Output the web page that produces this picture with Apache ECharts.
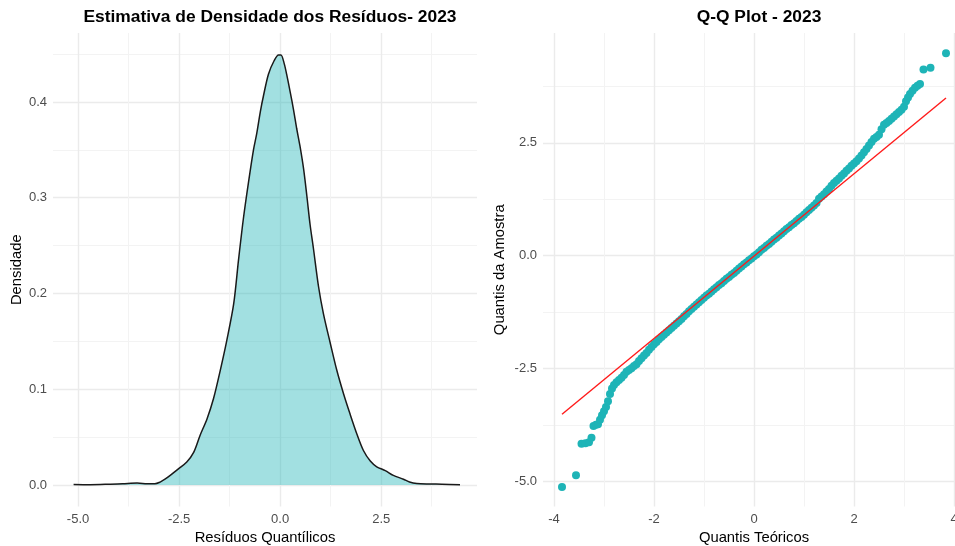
<!DOCTYPE html>
<html>
<head>
<meta charset="utf-8">
<script src="https://cdn.jsdelivr.net/npm/echarts@6/dist/echarts.min.js"></script>
<style>
html,body{margin:0;padding:0;background:#fff;}
#chart{width:955px;height:546px;}
</style>
</head>
<body>
<div id="chart"></div>
<script>
// ---- Density panel data ----
const densX = [-5.11,-4.7,-4.2,-3.9,-3.54,-3.3,-3.1,-2.97,-2.85,-2.72,-2.51,-2.31,-2.14,-1.98,-1.81,-1.65,-1.48,-1.32,-1.15,-1.03,-0.91,-0.78,-0.66,-0.58,-0.49,-0.41,-0.29,-0.15,-0.04,0.02,0.10,0.16,0.25,0.33,0.41,0.49,0.58,0.66,0.74,0.82,0.95,1.07,1.24,1.40,1.57,1.73,1.90,2.06,2.23,2.39,2.60,2.80,3.05,3.20,3.38,3.71,4.0,4.45];
const densY = [0.0005,0.0003,0.0008,0.0012,0.002,0.0013,0.0012,0.003,0.006,0.010,0.017,0.024,0.034,0.052,0.069,0.090,0.120,0.151,0.189,0.235,0.278,0.317,0.350,0.367,0.390,0.407,0.429,0.443,0.449,0.449,0.440,0.429,0.410,0.392,0.372,0.354,0.330,0.302,0.272,0.248,0.207,0.179,0.148,0.120,0.095,0.074,0.053,0.036,0.025,0.019,0.015,0.010,0.006,0.003,0.0014,0.001,0.0008,0.0003];

// ---- Q-Q panel data ----
const qqX = [-3.84,-3.56,-3.45,-3.37,-3.30,-3.25,-3.21,-3.16,-3.12,-3.08,-3.04,-3.00,-2.96,-2.92,-2.88,-2.84,
 -2.80,-2.75,-2.70,-2.65,-2.60,-2.55,-2.50,-2.45,-2.40,-2.35,-2.30,-2.25,-2.20,-2.15,-2.10,-2.05,-2.00,-1.95,-1.90,-1.85,-1.80,-1.75,-1.70,-1.65,-1.60,-1.55,-1.50,-1.45,-1.40,-1.35,-1.30,-1.25,
 -1.20,-1.15,-1.10,-1.05,-1.00,-0.95,-0.90,-0.85,-0.80,-0.75,-0.70,-0.65,-0.60,-0.55,-0.50,-0.45,-0.40,-0.35,-0.30,-0.25,-0.20,-0.15,-0.10,-0.05,
 0.00,0.05,0.10,0.15,0.20,0.25,0.30,0.35,0.40,0.45,0.50,0.55,0.60,0.65,0.70,0.75,0.80,0.85,0.90,0.95,1.00,1.05,1.10,1.15,1.20,1.25,
 1.30,1.35,1.40,1.45,1.50,1.55,1.60,1.65,1.70,1.75,1.80,1.85,1.90,1.95,2.00,2.05,2.10,2.15,2.20,2.25,2.30,2.35,2.40,2.45,2.50,2.55,2.60,2.65,2.70,2.75,2.80,2.85,2.90,2.95,3.00,3.04,3.08,3.12,3.17,3.22,3.27,3.32,3.39,3.53,3.84];
const qqY = [-5.12,-4.86,-4.16,-4.15,-4.13,-4.03,-3.77,-3.74,-3.73,-3.63,-3.53,-3.44,-3.35,-3.22,-3.06,-2.94,
 -2.86,-2.80,-2.75,-2.70,-2.64,-2.57,-2.53,-2.49,-2.44,-2.40,-2.33,-2.27,-2.21,-2.15,-2.08,-2.02,-1.96,-1.91,-1.85,-1.80,-1.75,-1.70,-1.65,-1.60,-1.55,-1.50,-1.45,-1.40,-1.34,-1.29,-1.23,-1.18,
 -1.13,-1.08,-1.03,-0.98,-0.93,-0.88,-0.84,-0.79,-0.74,-0.70,-0.65,-0.61,-0.56,-0.51,-0.47,-0.42,-0.38,-0.33,-0.28,-0.24,-0.19,-0.15,-0.10,-0.06,
 -0.01,0.03,0.08,0.13,0.17,0.22,0.26,0.31,0.36,0.40,0.45,0.49,0.54,0.59,0.63,0.68,0.72,0.77,0.82,0.86,0.91,0.96,1.01,1.06,1.11,1.17,
 1.26,1.31,1.36,1.42,1.48,1.55,1.61,1.66,1.71,1.77,1.82,1.88,1.93,1.99,2.04,2.09,2.15,2.22,2.29,2.36,2.44,2.52,2.59,2.63,2.68,2.80,2.90,2.94,2.98,3.03,3.08,3.13,3.18,3.23,3.30,3.42,3.50,3.58,3.65,3.72,3.76,3.80,4.12,4.16,4.48];
const qqLineX = [-3.84, 3.84];
const qqLineY = [-3.51, 3.49];

// ---- Tick values ----
const densXMajor = [-5, -2.5, 0, 2.5];
const densXMinor = [-3.75, -1.25, 1.25, 3.75];
const densYMajor = [0, 0.1, 0.2, 0.3, 0.4];
const densYMinor = [0.05, 0.15, 0.25, 0.35, 0.45];
const qqXMajor = [-4, -2, 0, 2, 4];
const qqXMinor = [-3, -1, 1, 3];
const qqYMajor = [-5, -2.5, 0, 2.5];
const qqYMinor = [-3.75, -1.25, 1.25, 3.75];

const FONT = 'Liberation Sans, Arial, sans-serif';
const GRID_MAJOR = '#EBEBEB';
const GRID_MINOR = '#F3F3F3';

function majorAxis(gridIndex, min, max, ticks, fmt, extra) {
  return Object.assign({
    type: 'value', gridIndex, min, max,
    axisLine: {show: false},
    axisTick: {show: false, customValues: ticks},
    axisLabel: {customValues: ticks, formatter: fmt, color: '#4D4D4D', fontSize: 13, fontFamily: FONT, margin: 6},
    splitLine: {show: true, lineStyle: {color: GRID_MAJOR, width: 1.4}},
    nameTextStyle: {color: '#000', fontSize: 14.8, fontFamily: FONT}
  }, extra || {});
}
function minorAxis(gridIndex, min, max, ticks) {
  return {
    type: 'value', gridIndex, min, max,
    axisLine: {show: false},
    axisTick: {show: false, customValues: ticks},
    axisLabel: {show: false, customValues: ticks},
    splitLine: {show: true, lineStyle: {color: GRID_MINOR, width: 1}}
  };
}

const f1 = v => Number(v).toFixed(1);
const f0 = v => String(Math.round(v));

const densData = densX.map((x, i) => [x, densY[i]]);
const qqData = qqX.map((x, i) => [x, qqY[i]]);
const lineData = qqLineX.map((x, i) => [x, qqLineY[i]]);

const chart = echarts.init(document.getElementById('chart'), null, {renderer: 'canvas'});
chart.setOption({
  animation: false,
  backgroundColor: '#fff',
  title: [
    {text: 'Estimativa de Densidade dos Resíduos- 2023', left: 265, top: 4, textAlign: 'center',
     textStyle: {fontSize: 17.4, fontWeight: 'bold', color: '#000', fontFamily: FONT}},
    {text: 'Q-Q Plot - 2023', left: 754, top: 4, textAlign: 'center',
     textStyle: {fontSize: 17.4, fontWeight: 'bold', color: '#000', fontFamily: FONT}}
  ],
  grid: [
    {left: 53, top: 33, width: 424, height: 473.5, outerBoundsMode: 'none', containLabel: false},
    {left: 543, top: 33, width: 422, height: 473.5, outerBoundsMode: 'none', containLabel: false}
  ],
  xAxis: [
    majorAxis(0, -5.62, 4.87, densXMajor, f1, {name: 'Resíduos Quantílicos', nameLocation: 'middle', nameGap: 21}),
    minorAxis(0, -5.62, 4.87, densXMinor),
    majorAxis(1, -4.22, 4.22, qqXMajor, f0, {name: 'Quantis Teóricos', nameLocation: 'middle', nameGap: 21}),
    minorAxis(1, -4.22, 4.22, qqXMinor)
  ],
  yAxis: [
    majorAxis(0, -0.0225, 0.472, densYMajor, f1, {name: 'Densidade', nameLocation: 'middle', nameGap: 29}),
    minorAxis(0, -0.0225, 0.472, densYMinor),
    majorAxis(1, -5.55, 4.93, qqYMajor, f1, {name: 'Quantis da Amostra', nameLocation: 'middle', nameGap: 36}),
    minorAxis(1, -5.55, 4.93, qqYMinor)
  ],
  series: [
    {type: 'line', xAxisIndex: 0, yAxisIndex: 0, data: densData, smooth: 0.3, symbol: 'none',
     lineStyle: {color: '#1A1A1A', width: 1.5},
     areaStyle: {color: 'rgba(30,180,183,0.41)', opacity: 1}},
    {type: 'scatter', xAxisIndex: 2, yAxisIndex: 2, data: qqData, symbolSize: 8,
     itemStyle: {color: '#1EB4B7', opacity: 1}},
    {type: 'line', xAxisIndex: 2, yAxisIndex: 2, data: lineData, symbol: 'none',
     lineStyle: {color: '#FF1A1A', width: 1.4}, z: 3}
  ]
});
</script>
</body>
</html>
